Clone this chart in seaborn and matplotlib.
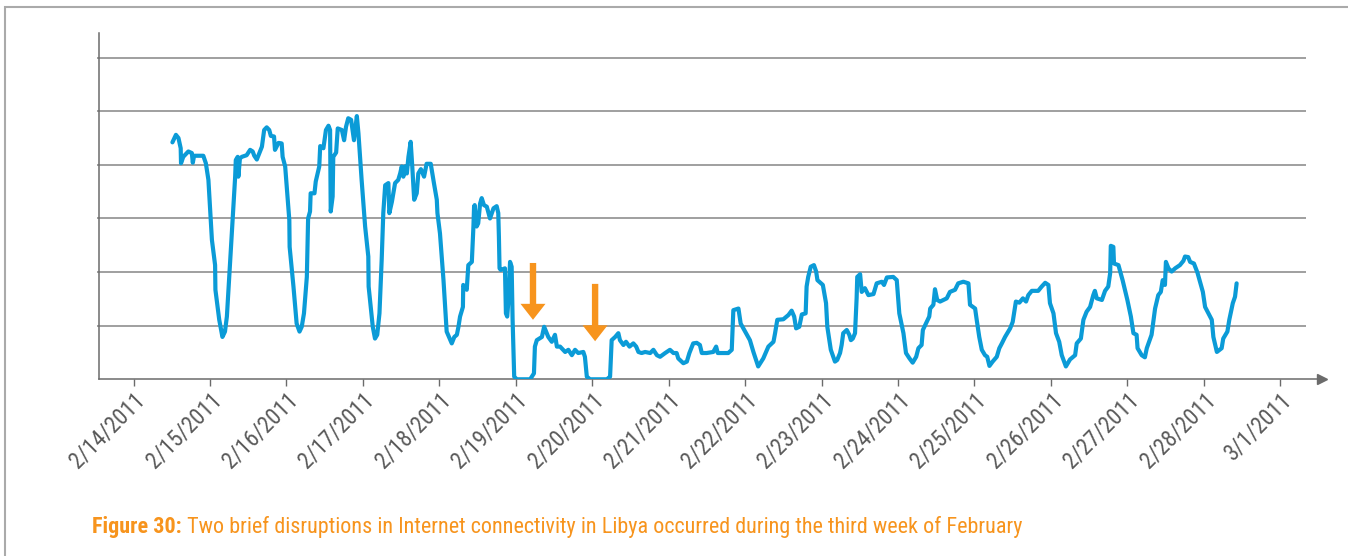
import pandas as pd
import seaborn as sns
import matplotlib.pyplot as plt
from matplotlib import font_manager
from matplotlib.transforms import ScaledTranslation
from matplotlib.patches import Rectangle

# hours since 2/14/2011 00:00
hours = [
    12.2, 13.3, 14.1, 14.8, 14.9, 15.6, 17.2, 18.3, 18.6, 19.0, 21.9, 22.7, 23.5, 24.6, 25.6,
    25.7, 26.9, 27.9, 28.7, 29.3, 30.1, 31.1, 31.9, 32.1, 32.7, 32.9, 33.4, 34.0, 35.5, 36.6,
    37.4, 37.9, 38.7, 40.3, 41.0, 41.8, 42.6, 43.1, 44.1, 44.4, 45.5, 46.5, 46.8, 47.6, 48.1,
    48.9, 49.0, 50.2, 51.2, 52.1, 52.8, 53.5, 54.4, 54.8, 55.4, 55.6, 56.8, 57.2, 58.3, 58.6,
    59.6, 60.4, 61.2, 61.7, 61.9, 62.5, 62.7, 63.6, 64.1, 65.4, 66.1, 66.7, 67.4, 68.3, 69.2,
    70.1, 70.6, 71.6, 72.7, 73.7, 73.8, 75.1, 75.8, 76.5, 77.2, 77.9, 78.4, 79.0, 80.0, 80.3,
    81.1, 82.1, 83.1, 83.7, 84.2, 84.7, 85.2, 85.8, 86.3, 87.0, 87.5, 88.1, 88.9, 89.4, 90.2,
    91.2, 92.0, 93.3, 94.3, 95.2, 95.4, 96.2, 97.3, 98.3, 99.9, 100.7, 101.5, 102.0, 102.5, 103.4,
    103.5, 104.6, 105.1, 106.2, 106.7, 106.9, 107.1, 107.4, 107.7, 108.2, 108.8, 109.3, 110.0, 110.9, 111.9,
    113.0, 114.0, 114.5, 114.7, 114.9, 115.3, 116.6, 116.9, 117.3, 117.7, 118.2, 118.7, 119.0, 119.5, 120.3,
    124.5, 125.7, 126.0, 126.6, 128.2, 128.9, 129.7, 130.2, 131.3, 132.3, 132.9, 133.9, 135.5, 136.5, 137.6,
    138.6, 139.6, 141.2, 141.7, 142.3, 143.3, 148.6, 149.6, 150.1, 151.2, 152.2, 152.7, 153.8, 154.6, 155.7,
    156.9, 157.8, 158.5, 159.5, 160.6, 162.2, 163.2, 164.3, 165.3, 166.9, 168.4, 169.5, 170.5, 171.0, 172.6,
    173.7, 174.5, 175.7, 176.8, 177.8, 178.4, 179.9, 182.0, 182.9, 183.4, 185.2, 186.7, 187.8, 188.3, 189.9,
    190.6, 192.0, 193.5, 194.6, 196.1, 197.7, 199.3, 200.9, 201.4, 202.1, 204.0, 205.6, 206.6, 207.4, 208.0,
    209.0, 209.8, 211.0, 211.3, 211.8, 212.6, 213.6, 214.3, 214.7, 216.4, 217.4, 217.8, 218.9, 220.2, 220.9,
    221.8, 222.3, 222.8, 223.9, 224.7, 225.2, 225.8, 226.5, 227.0, 227.2, 228.1, 228.6, 229.6, 230.7, 232.3,
    233.3, 234.9, 235.6, 236.5, 238.5, 239.6, 240.4, 241.7, 242.5, 243.6, 244.6, 245.7, 246.4, 247.4, 247.8,
    249.0, 249.8, 250.1, 251.1, 251.6, 252.3, 253.2, 255.3, 256.3, 257.9, 258.9, 260.5, 262.1, 262.6, 264.2,
    264.7, 265.5, 266.3, 267.3, 268.0, 268.7, 269.7, 271.0, 271.8, 272.6, 273.6, 275.2, 276.0, 277.0, 278.1,
    279.2, 280.2, 280.9, 282.0, 284.0, 285.1, 286.2, 287.2, 287.7, 288.8, 289.6, 290.6, 291.4, 292.7, 294.0,
    295.6, 296.1, 297.4, 298.2, 299.2, 300.3, 301.3, 301.8, 302.4, 304.0, 305.0, 306.0, 306.6, 306.8, 307.6,
    307.8, 309.2, 310.5, 312.0, 313.1, 313.9, 314.9, 315.2, 316.5, 317.5, 318.1, 319.6, 320.7, 321.7, 322.5,
    323.1, 323.8, 324.1, 324.9, 325.9, 327.0, 328.5, 329.6, 330.1, 331.1, 331.7, 332.9, 334.0, 334.8, 335.7,
    336.4, 338.0, 338.5, 339.0, 340.1, 341.6, 342.1, 343.4, 344.0, 345.1, 345.8, 346.3,
]
values = [
    4.42, 4.56, 4.50, 4.31, 4.03, 4.15, 4.25, 4.22, 4.04, 4.17, 4.17, 4.03, 3.72, 2.60, 2.13,
    1.67, 1.11, 0.79, 0.89, 1.17, 1.98, 2.97, 3.78, 4.09, 4.15, 3.78, 4.12, 4.15, 4.18, 4.28,
    4.25, 4.17, 4.10, 4.34, 4.65, 4.70, 4.65, 4.54, 4.53, 4.28, 4.41, 4.40, 4.15, 3.97, 3.59,
    2.97, 2.47, 1.73, 1.04, 0.89, 0.98, 1.23, 1.91, 3.00, 3.13, 3.47, 3.47, 3.69, 3.97, 4.35,
    4.31, 4.65, 4.73, 4.65, 3.13, 3.41, 4.15, 4.23, 4.68, 4.65, 4.46, 4.71, 4.87, 4.84, 4.46,
    4.91, 4.59, 3.72, 2.85, 2.29, 1.73, 0.98, 0.76, 0.83, 1.23, 2.23, 3.10, 3.62, 3.66, 3.10,
    3.31, 3.66, 3.72, 3.84, 3.97, 3.78, 3.97, 3.84, 4.15, 4.43, 3.97, 3.35, 3.47, 3.84, 3.92,
    3.78, 4.02, 4.02, 3.66, 3.35, 3.10, 2.72, 1.85, 0.89, 0.67, 0.79, 0.83, 0.98, 1.17, 1.35,
    1.76, 1.67, 2.13, 2.19, 2.85, 3.22, 3.25, 3.03, 2.85, 2.91, 3.28, 3.38, 3.25, 3.22, 3.00,
    3.19, 3.23, 3.10, 2.66, 2.07, 2.04, 2.07, 1.23, 1.17, 1.48, 2.19, 2.10, 1.11, 0.05, 0.00,
    0.00, 0.11, 0.61, 0.73, 0.79, 0.98, 0.86, 0.79, 0.70, 0.83, 0.61, 0.61, 0.51, 0.55, 0.45,
    0.55, 0.49, 0.51, 0.42, 0.05, 0.00, 0.00, 0.05, 0.73, 0.79, 0.86, 0.73, 0.64, 0.70, 0.61,
    0.67, 0.61, 0.51, 0.49, 0.51, 0.49, 0.55, 0.45, 0.42, 0.49, 0.55, 0.49, 0.49, 0.39, 0.30,
    0.33, 0.49, 0.67, 0.68, 0.64, 0.49, 0.49, 0.51, 0.61, 0.49, 0.49, 0.49, 0.55, 1.29, 1.32,
    1.04, 0.89, 0.73, 0.51, 0.24, 0.39, 0.61, 0.70, 0.86, 1.11, 1.12, 1.20, 1.28, 1.17, 0.95,
    0.98, 1.21, 1.23, 1.73, 1.91, 2.10, 2.13, 2.01, 1.85, 1.76, 1.42, 0.98, 0.55, 0.33, 0.36,
    0.49, 0.64, 0.86, 0.92, 0.83, 0.73, 0.76, 0.86, 1.51, 1.91, 1.96, 1.63, 1.70, 1.57, 1.59,
    1.79, 1.82, 1.76, 1.90, 1.91, 1.85, 1.23, 0.86, 0.49, 0.39, 0.31, 0.42, 0.58, 0.64, 0.92,
    1.07, 1.17, 1.32, 1.39, 1.68, 1.48, 1.45, 1.51, 1.63, 1.67, 1.79, 1.82, 1.79, 1.39, 1.32,
    1.11, 0.79, 0.55, 0.45, 0.42, 0.25, 0.33, 0.42, 0.58, 0.67, 0.79, 0.95, 1.07, 1.45, 1.43,
    1.51, 1.45, 1.57, 1.65, 1.65, 1.73, 1.80, 1.76, 1.42, 1.23, 0.86, 0.70, 0.45, 0.24, 0.37,
    0.45, 0.67, 0.76, 1.11, 1.26, 1.35, 1.57, 1.65, 1.51, 1.48, 1.65, 1.73, 1.98, 2.49, 2.47,
    2.16, 2.13, 1.85, 1.48, 1.17, 0.86, 0.83, 0.58, 0.45, 0.41, 0.58, 0.83, 1.32, 1.57, 1.63,
    1.85, 1.76, 2.19, 2.07, 2.01, 2.07, 2.13, 2.21, 2.29, 2.28, 2.19, 2.16, 1.99, 1.82, 1.63,
    1.35, 1.17, 1.11, 0.79, 0.51, 0.58, 0.76, 0.89, 1.11, 1.42, 1.54, 1.79,
]

day_labels = ['2/14/2011', '2/15/2011', '2/16/2011', '2/17/2011', '2/18/2011', '2/19/2011',
              '2/20/2011', '2/21/2011', '2/22/2011', '2/23/2011', '2/24/2011', '2/25/2011',
              '2/26/2011', '2/27/2011', '2/28/2011', '3/1/2011']

# the two orange markers: hour, top of shaft, tip
arrow_hours = [125.4, 144.9]
arrow_tops = [2.17, 1.78]
arrow_tips = [1.11, 0.71]

caption_bold = 'Figure 30:'
caption_rest = ' Two brief disruptions in Internet connectivity in Libya occurred during the third week of February'

blue = '#0B9BD7'
orange = '#F7941D'
axis_grey = '#6b6b6b'

# prefer a condensed face (the original uses one), otherwise a narrow-ish sans
installed = {f.name for f in font_manager.fontManager.ttflist}
main_font = 'Liberation Sans'
for cand in ['Roboto Condensed', 'Liberation Sans Narrow', 'Open Sans Condensed']:
    if cand in installed:
        main_font = cand
        break
fonts = [main_font, 'DejaVu Sans']

start = pd.Timestamp('2011-02-14')
df = pd.DataFrame({'time': start + pd.to_timedelta(hours, unit='h'), 'value': values})
ticks = [start + pd.Timedelta(days=i) for i in range(len(day_labels))]

sns.set_style('white')
plt.rcParams['font.family'] = fonts

fig = plt.figure(figsize=(13.48, 5.56), dpi=100)
ax = fig.add_axes([99 / 1348, 1 - 379.3 / 556, (1322 - 99) / 1348, (379.3 - 33) / 556])

x0 = start - pd.Timedelta(days=0.452)
x1 = start + pd.Timedelta(days=15.546)
ax.set_xlim(x0, x1)
ax.set_ylim(0, 6.46)

ax.hlines(range(1, 7), start - pd.Timedelta(days=0.48), start + pd.Timedelta(days=15.34),
          color='#858585', lw=1.1, clip_on=False, zorder=1)

sns.lineplot(data=df, x='time', y='value', sort=False, color=blue, lw=3.0, ax=ax, zorder=3)

for h, top, tip in zip(arrow_hours, arrow_tops, arrow_tips):
    t = start + pd.Timedelta(hours=h)
    ax.annotate('', xy=(t, tip), xytext=(t, top),
                arrowprops=dict(arrowstyle='simple,head_length=11.5,head_width=18,tail_width=4.6',
                                mutation_scale=1, color=orange, lw=0, shrinkA=0, shrinkB=0),
                zorder=4)

for side in ['top', 'right']:
    ax.spines[side].set_visible(False)
for side in ['left', 'bottom']:
    ax.spines[side].set_color(axis_grey)
    ax.spines[side].set_linewidth(1.1)
ax.plot(1, 0, '>', color=axis_grey, ms=7, transform=ax.get_yaxis_transform(), clip_on=False)
ax.plot(0, 1, '^', color=axis_grey, ms=7, transform=ax.get_xaxis_transform(), clip_on=False)

renderer = fig.canvas.get_renderer()

# date labels: "2/14/2011" runs about 80 px across in the original
tick_size = 16.5 if main_font != 'Liberation Sans' else 13

ax.set_yticks([])
ax.set_xticks(ticks)
ax.set_xticklabels(day_labels, rotation=45, ha='right', va='center', rotation_mode='anchor',
                   fontsize=tick_size, color='#5a5a5a')
ax.tick_params(axis='x', bottom=True, direction='out', length=5, width=1, color=axis_grey, pad=7)
shift = ScaledTranslation(0.08, 0, fig.dpi_scale_trans)
for lab in ax.get_xticklabels():
    lab.set_transform(lab.get_transform() + shift)
ax.set_xlabel('')
ax.set_ylabel('')

fig.patches.append(Rectangle((5 / 1348, -0.1), 1.2, 1.1 - 7 / 556, transform=fig.transFigure,
                             fill=False, edgecolor='#aaaaaa', lw=1.5))

# caption: bold lead-in, regular rest, whole line ~926 px wide
base_y = 1 - 533 / 556


def put_caption(size):
    a = fig.text(92 / 1348, base_y, caption_bold, color=orange, fontsize=size,
                 fontweight='bold', va='baseline')
    bb = a.get_window_extent(renderer)
    b = fig.text(bb.x1 / fig.bbox.width, base_y, caption_rest, color=orange, fontsize=size,
                 va='baseline')
    return a, b, b.get_window_extent(renderer).x1


cap_size = 15
for _ in range(3):
    t1, t2, end = put_caption(cap_size)
    if abs(end - 1018) < 3:
        break
    t1.remove()
    t2.remove()
    cap_size = cap_size * (1018 - 92) / (end - 92)
else:
    put_caption(cap_size)

fig.savefig('out.png', dpi=100)
